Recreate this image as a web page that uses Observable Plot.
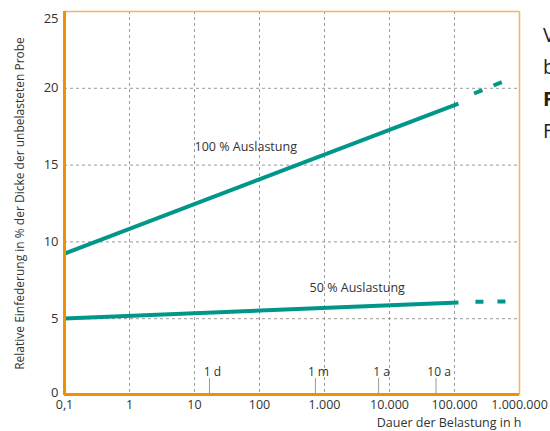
<!DOCTYPE html>
<html><head><meta charset="utf-8">
<script src="https://cdn.jsdelivr.net/npm/d3@7"></script>
<script src="https://cdn.jsdelivr.net/npm/@observablehq/plot@0.6"></script>
<style>
body{margin:0;background:#fff;font-family:"Open Sans",sans-serif}
#wrap{position:relative;width:550px;height:431px;overflow:hidden}
#side{position:absolute;left:543px;top:19px;font-size:20px;line-height:32px;color:#222;white-space:nowrap}
#chart{position:absolute;left:0;top:0}
</style></head><body>
<div id="wrap"><div id="chart"></div>
<div id="side"><div>V</div><div>b</div><div style="font-weight:bold">F</div><div>F</div></div></div>
<script>
const xTicks = [0.1, 1, 10, 100, 1000, 10000, 100000, 1000000];
const xTickLabels = ["0,1", "1", "10", "100", "1.000", "10.000", "100.000", "1.000.000"];
const yTicks = [0, 5, 10, 15, 20, 25];
const hours100 = [0.1, 115000];
const values100 = [9.24, 19.0];
const hours100Dash = [200000, 560000];
const values100Dash = [19.66, 20.44];
const hours50 = [0.1, 115000];
const values50 = [5.02, 6.06];
const hours50Dash = [210000, 630000];
const values50Dash = [6.1, 6.12];
const markerHours = [17, 725, 6800, 52000];
const markerLabels = ["1 d", "1 m", "1 a", "10 a"];
const seriesLabels = ["100 % Auslastung", "50 % Auslastung"];
const labelHours = [10, 590];
const labelValues = [16.2, 7.0];
const xTitle = "Dauer der Belastung in h";
const yTitle = "Relative Einfederung in % der Dicke der unbelasteten Probe";

const pts = (xs, ys) => xs.map((x, i) => ({x, y: ys[i]}));
const teal = "#00968a";
const ink = "#333";
const fmtX = d => xTickLabels[xTicks.findIndex(t => Math.abs(Math.log10(t) - Math.log10(d)) < 1e-6)];
const yLast = yTicks.length - 1;

const chart = Plot.plot({
  width: 550, height: 431,
  marginLeft: 64, marginRight: 31, marginTop: 11, marginBottom: 36,
  style: {fontFamily: "Open Sans, sans-serif", color: ink, background: "transparent", overflow: "visible"},
  x: {type: "log", domain: [0.1, 1000000]},
  y: {domain: [0, 25]},
  marks: [
    Plot.ruleX(xTicks.slice(1, -1), {stroke: "#9a9a9a", strokeDasharray: "3,3", strokeWidth: 1}),
    Plot.ruleY(yTicks.slice(1, -1), {stroke: "#9a9a9a", strokeDasharray: "3,3", strokeWidth: 1}),
    Plot.ruleY([yTicks[yLast]], {stroke: "#f6b55a", strokeWidth: 1.5}),
    Plot.ruleX([xTicks[xTicks.length - 1]], {stroke: "#f6b55a", strokeWidth: 1.5}),
    Plot.ruleX(markerHours, {y1: 0, y2: 1.1, stroke: "#999", strokeWidth: 1}),
    Plot.text(markerHours.map((h, i) => ({h, t: markerLabels[i]})), {x: "h", y: 1.55, text: "t", fontSize: 12, fill: ink, dx: 3}),
    Plot.line(pts(hours100, values100), {x: "x", y: "y", stroke: teal, strokeWidth: 4, strokeLinecap: "butt"}),
    Plot.line(pts(hours100Dash, values100Dash), {x: "x", y: "y", stroke: teal, strokeWidth: 4, strokeLinecap: "butt", strokeDasharray: "9,12"}),
    Plot.line(pts(hours50, values50), {x: "x", y: "y", stroke: teal, strokeWidth: 4, strokeLinecap: "butt"}),
    Plot.line(pts(hours50Dash, values50Dash), {x: "x", y: "y", stroke: teal, strokeWidth: 4, strokeLinecap: "butt", strokeDasharray: "8,14"}),
    Plot.text(seriesLabels.map((t, i) => ({t, x: labelHours[i], y: labelValues[i]})), {x: "x", y: "y", text: "t", textAnchor: "start", fontSize: 12.5, fill: ink}),
    Plot.ruleX([xTicks[0]], {stroke: "#f29100", strokeWidth: 3}),
    Plot.ruleY([yTicks[0]], {stroke: "#f29100", strokeWidth: 3, dy: -1}),
    Plot.axisX({ticks: xTicks, tickFormat: fmtX, tickSize: 0, tickPadding: 5, fontSize: 12.5, label: null}),
    Plot.axisY({ticks: yTicks.slice(1, -1), tickSize: 0, tickPadding: 6, fontSize: 13, label: null}),
    Plot.text([yTicks[0]], {x: xTicks[0], y: d => d, text: d => String(d), textAnchor: "end", dx: -6, dy: -3, fontSize: 13, fill: ink}),
    Plot.text([yTicks[yLast]], {x: xTicks[0], y: d => d, text: d => String(d), textAnchor: "end", dx: -6, dy: 7, fontSize: 13, fill: ink}),
    Plot.text([xTitle], {frameAnchor: "bottom-right", dy: 31, dx: 2, textAnchor: "end", fontSize: 12.5, fill: ink}),
    Plot.text([yTitle], {frameAnchor: "left", textAnchor: "middle", rotate: -90, dx: -44, fontSize: 12, fill: ink})
  ]
});
document.getElementById("chart").appendChild(chart);
</script>
</body></html>
